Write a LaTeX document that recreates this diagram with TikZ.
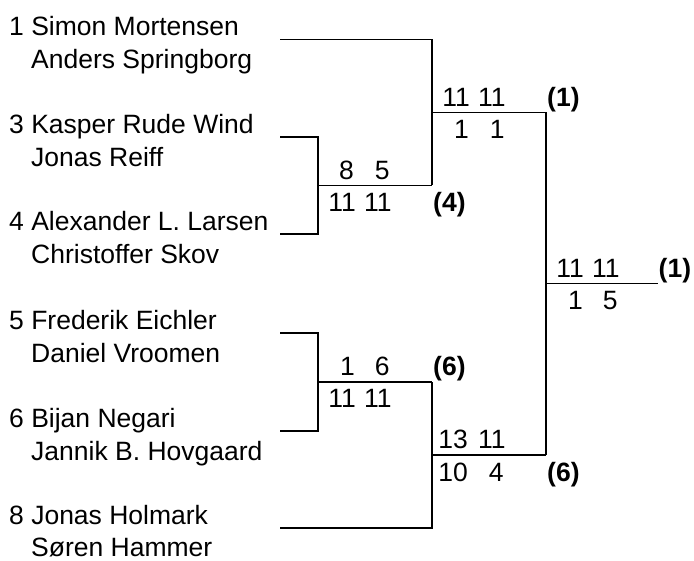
\documentclass[tikz,border=0pt]{standalone}
\usepackage{fontspec}
\setmainfont{Liberation Sans}
\usetikzlibrary{calc}
\begin{document}
\begin{tikzpicture}[x=1pt,y=1pt,
  bline/.style={line width=1.5pt},
  player/.style={anchor=base west, inner sep=0pt, font=\fontsize{26.5}{31}\selectfont},
  score/.style={anchor=base east, inner sep=0pt, font=\fontsize{26.5}{31}\selectfont},
  endeleven/.style={xshift=2pt},
  endone/.style={xshift=1pt},
  seedlbl/.style={anchor=base west, inner sep=0pt, font=\fontsize{26.5}{31}\selectfont\bfseries}]
\useasboundingbox (0,0) rectangle (694,-561);
% entry line starts
\coordinate (a1) at (280,-39.5);
\coordinate (a3) at (280,-137);
\coordinate (a4) at (280,-234);
\coordinate (a5) at (280,-333);
\coordinate (a6) at (280,-431);
\coordinate (a8) at (280,-528);
% match line starts
\coordinate (q1) at (318,-185.5);
\coordinate (q2) at (318,-382);
\coordinate (s1) at (432,-112.5);
\coordinate (s2) at (432,-455);
\coordinate (f0) at (546,-283.75);
\coordinate (fend) at (658,-283.75);
% bracket lines
\draw[bline] (a3) -- (a3 -| q1) -- (a4 -| q1) -- (a4);
\draw[bline] (q1) -- (q1 -| s1);
\draw[bline] (a1) -- (a1 -| s1) -- (q1 -| s1);
\draw[bline] (s1) -- (s1 -| f0);
\draw[bline] (a5) -- (a5 -| q2) -- (a6 -| q2) -- (a6);
\draw[bline] (q2) -- (q2 -| s2);
\draw[bline] (a8) -- (a8 -| s2) -- (q2 -| s2);
\draw[bline] (s2) -- (s2 -| f0);
\draw[bline] (s1 -| f0) -- (s2 -| f0);
\draw[bline] (f0) -- (fend);
% players
\node[player] (n1a) at (9,-35.8) {1 Simon Mortensen};
\node[player] (n1b) at (31,-69) {Anders Springborg};
\node[player] (n3a) at (9,-133.3) {3 Kasper Rude Wind};
\node[player] (n3b) at (31,-166.3) {Jonas Reiff};
\node[player] (n4a) at (9,-230.3) {4 Alexander L. Larsen};
\node[player] (n4b) at (31,-263.3) {Christoffer Skov};
\node[player] (n5a) at (9,-329.5) {5 Frederik Eichler};
\node[player] (n5b) at (31,-362.5) {Daniel Vroomen};
\node[player] (n6a) at (9,-427.5) {6 Bijan Negari};
\node[player] (n6b) at (31,-460.5) {Jannik B. Hovgaard};
\node[player] (n8a) at (9,-524.7) {8 Jonas Holmark};
\node[player] (n8b) at (31,-556.8) {Søren Hammer};
% scores round 1 top
\node[score] (r1t1) at ($(q1)+(36.1,6)$) {8};
\node[score] (r1t2) at ($(q1)+(71.8,6)$) {5};
\node[score,endeleven] (r1b1) at ($(q1)+(36.1,-26)$) {11};
\node[score,endeleven] (r1b2) at ($(q1)+(71.8,-26)$) {11};
\node[seedlbl] (sd4) at ($(q1 -| s1)+(1,-26)$) {(4)};
% scores round 1 bottom
\node[score,endone] (r2t1) at ($(q2)+(36.1,6)$) {1};
\node[score] (r2t2) at ($(q2)+(71.8,6)$) {6};
\node[score,endeleven] (r2b1) at ($(q2)+(36.1,-26)$) {11};
\node[score,endeleven] (r2b2) at ($(q2)+(71.8,-26)$) {11};
\node[seedlbl] (sd6a) at ($(q2 -| s2)+(1,6)$) {(6)};
% semifinal top
\node[score,endeleven] (s1t1) at ($(s1)+(36.1,6)$) {11};
\node[score,endeleven] (s1t2) at ($(s1)+(71.8,6)$) {11};
\node[score,endone] (s1b1) at ($(s1)+(36.1,-26)$) {1};
\node[score,endone] (s1b2) at ($(s1)+(71.8,-26)$) {1};
\node[seedlbl] (sd1a) at ($(s1 -| f0)+(1,6)$) {(1)};
% semifinal bottom
\node[score] (s2t1) at ($(s2)+(36.1,6)$) {13};
\node[score,endeleven] (s2t2) at ($(s2)+(71.8,6)$) {11};
\node[score] (s2b1) at ($(s2)+(36.1,-26)$) {10};
\node[score] (s2b2) at ($(s2)+(71.8,-26)$) {4};
\node[seedlbl] (sd6b) at ($(s2 -| f0)+(1,-26)$) {(6)};
% final
\node[score,endeleven] (ft1) at ($(f0)+(36.1,6)$) {11};
\node[score,endeleven] (ft2) at ($(f0)+(71.8,6)$) {11};
\node[score,endone] (fb1) at ($(f0)+(36.1,-26)$) {1};
\node[score] (fb2) at ($(f0)+(71.8,-26)$) {5};
\node[seedlbl] (sd1b) at ($(fend)+(0.5,6)$) {(1)};
\end{tikzpicture}
\end{document}
